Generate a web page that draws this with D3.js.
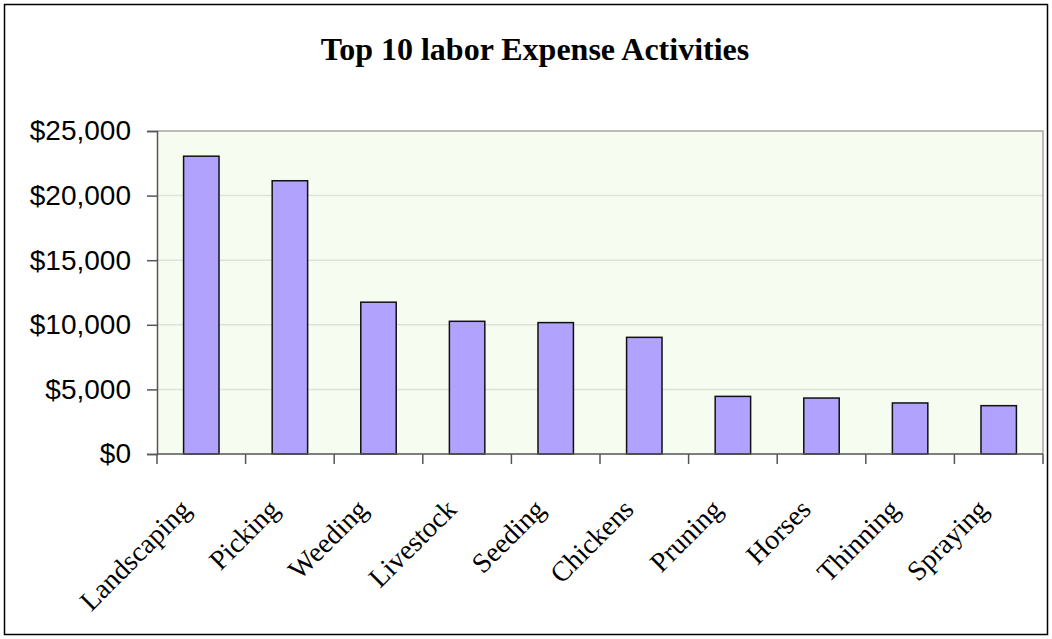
<!DOCTYPE html>
<html>
<head>
<meta charset="utf-8">
<script src="https://cdn.jsdelivr.net/npm/d3@7"></script>
<style>
  html, body { margin: 0; padding: 0; background: #fff; }
  svg { display: block; }
</style>
</head>
<body>
<svg id="chart" width="1052" height="639"></svg>
<script>
// Labor expense by activity (USD), top ten
const categories = ["Landscaping", "Picking", "Weeding", "Livestock", "Seeding",
                    "Chickens", "Pruning", "Horses", "Thinning", "Spraying"];
const expenses = [23050, 21150, 11750, 10270, 10170, 9030, 4460, 4330, 3950, 3740];
const yTicks = [0, 5000, 10000, 15000, 20000, 25000];
const title = "Top 10 labor Expense Activities";

const svg = d3.select("#chart");
const W = 1052, H = 639;
const plot = { left: 157, right: 1043, top: 131, bottom: 454 };

// outer chart frame
svg.append("rect")
  .attr("x", 4.5).attr("y", 4.5)
  .attr("width", W - 9).attr("height", H - 9)
  .attr("fill", "#fff").attr("stroke", "#000").attr("stroke-width", 1.5);

svg.append("text")
  .attr("x", 535).attr("y", 60)
  .attr("text-anchor", "middle")
  .attr("font-family", "'Liberation Serif', 'Times New Roman', serif")
  .attr("font-weight", "bold")
  .attr("font-size", 32)
  .text(title);

const x = d3.scaleBand().domain(categories).range([plot.left, plot.right]).padding(0);
const y = d3.scaleLinear().domain([0, 25000]).range([plot.bottom, plot.top]);

// plot area background
svg.append("rect")
  .attr("x", plot.left).attr("y", plot.top)
  .attr("width", plot.right - plot.left).attr("height", plot.bottom - plot.top)
  .attr("fill", "#f6fcef");

// horizontal gridlines
svg.append("g").selectAll("line")
  .data(yTicks.filter(t => t > 0 && t < 25000))
  .join("line")
  .attr("x1", plot.left).attr("x2", plot.right)
  .attr("y1", d => y(d)).attr("y2", d => y(d))
  .attr("stroke", "#dfe2dc").attr("stroke-width", 1.5);

// top and right plot border
svg.append("path")
  .attr("d", `M${plot.left},${plot.top}H${plot.right}V${plot.bottom}`)
  .attr("fill", "none").attr("stroke", "#a6a6a0").attr("stroke-width", 1.5);

// bars (Excel-style gap width 150%)
const barW = x.bandwidth() * 0.4;
svg.append("g").selectAll("rect")
  .data(categories.map((c, i) => ({ c, v: expenses[i] })))
  .join("rect")
  .attr("x", d => x(d.c) + (x.bandwidth() - barW) / 2)
  .attr("y", d => y(d.v))
  .attr("width", barW)
  .attr("height", d => y(0) - y(d.v))
  .attr("fill", "#b0a2fd")
  .attr("stroke", "#111").attr("stroke-width", 1.5);

// y axis
const yAxis = d3.axisLeft(y)
  .tickValues(yTicks)
  .tickFormat(d3.format("$,"))
  .tickSize(10)
  .tickPadding(16);
const gy = svg.append("g").attr("transform", `translate(${plot.left},0)`).call(yAxis);
gy.select(".domain").attr("stroke", "#555").attr("stroke-width", 1.5);
gy.selectAll(".tick line").attr("stroke", "#555").attr("stroke-width", 1.5);
gy.selectAll(".tick text")
  .attr("font-family", "'Liberation Sans', Arial, sans-serif")
  .attr("font-size", 28)
  .attr("fill", "#000");

// x axis baseline and category boundary ticks
svg.append("line")
  .attr("x1", plot.left).attr("x2", plot.right)
  .attr("y1", plot.bottom).attr("y2", plot.bottom)
  .attr("stroke", "#555").attr("stroke-width", 1.5);
const boundaries = categories.map(c => x(c)).concat([x.range()[1]]);
svg.append("g").selectAll("line")
  .data(boundaries)
  .join("line")
  .attr("x1", d => d).attr("x2", d => d)
  .attr("y1", plot.bottom).attr("y2", plot.bottom + 10)
  .attr("stroke", "#555").attr("stroke-width", 1.5);

// rotated category labels
svg.append("g").selectAll("text")
  .data(categories)
  .join("text")
  .attr("transform", d => `translate(${x(d) + x.bandwidth() / 2 - 9},${plot.bottom + 57}) rotate(-45)`)
  .attr("text-anchor", "end")
  .attr("font-family", "'Liberation Serif', 'Times New Roman', serif")
  .attr("font-size", 28)
  .attr("fill", "#000")
  .text(d => d);
</script>
</body>
</html>
